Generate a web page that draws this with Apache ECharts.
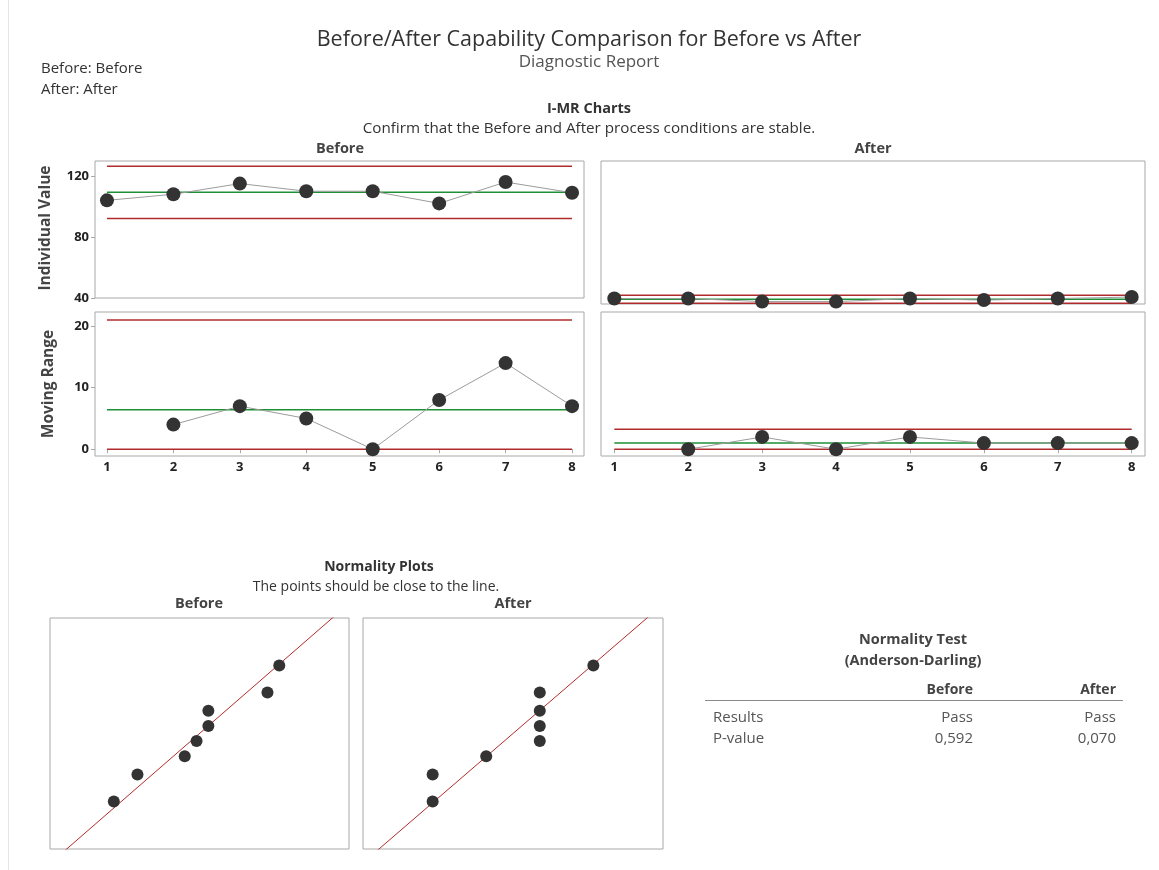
<!DOCTYPE html>
<html>
<head>
<meta charset="utf-8">
<script src="https://cdn.jsdelivr.net/npm/echarts@6/dist/echarts.min.js"></script>
<style>
  html, body { margin: 0; padding: 0; background: #ffffff; }
  #chart { width: 1159px; height: 870px; }
</style>
</head>
<body>
<div id="chart"></div>
<script>
// Observation numbers and measured values
const observations = [1, 2, 3, 4, 5, 6, 7, 8];
const beforeValues = [104, 108, 115, 110, 110, 102, 116, 109];
const afterValues = [39, 39, 37, 37, 39, 38, 39, 40];
// Moving ranges (no range for the first observation)
const beforeRanges = [null, 4, 7, 5, 0, 8, 14, 7];
const afterRanges = [null, 0, 2, 0, 2, 1, 1, 1];
// Ordered values and their normal scores for the probability plots
const beforeSorted = [102, 104, 108, 109, 110, 110, 115, 116];
const afterSorted = [37, 37, 38, 39, 39, 39, 39, 40];
const normalScores = [-1.38, -0.83, -0.46, -0.15, 0.15, 0.46, 0.83, 1.38];
// Tick labels
const individualTicks = [40, 80, 120];
const rangeTicks = [0, 10, 20];
// Anderson-Darling summary table
const testRows = ['Results', 'P-value'];
const testBefore = ['Pass', '0,592'];
const testAfter = ['Pass', '0,070'];

const FONT = '"Open Sans", "Noto Sans", "DejaVu Sans", sans-serif';
const RED = '#b02c2c';
const GREEN = '#1f8f36';
const DOT = '#333333';
const CONNECT = '#9c9c9c';
const FRAME = '#a8a8a8';

function mean(a) { return a.reduce((s, v) => s + v, 0) / a.length; }
function sd(a) {
  const m = mean(a);
  return Math.sqrt(a.reduce((s, v) => s + (v - m) * (v - m), 0) / (a.length - 1));
}
function avgRange(r) { const v = r.filter(x => x !== null); return mean(v); }

// I-MR control limits
function limits(values, ranges) {
  const m = mean(values), mr = avgRange(ranges);
  return { center: m, ucl: m + 2.66 * mr, lcl: m - 2.66 * mr,
           mrCenter: mr, mrUcl: 3.267 * mr, mrLcl: 0 };
}
const limB = limits(beforeValues, beforeRanges);
const limA = limits(afterValues, afterRanges);

const grids = [
  { left: 95, top: 161, width: 489, height: 137 },   // 0 Before individual
  { left: 601, top: 161, width: 544, height: 143 },  // 1 After individual
  { left: 95, top: 312, width: 489, height: 144 },   // 2 Before moving range
  { left: 601, top: 312, width: 544, height: 144 },  // 3 After moving range
  { left: 50, top: 618, width: 299, height: 231 },   // 4 Before normal plot
  { left: 363, top: 618, width: 300, height: 231 }   // 5 After normal plot
].map(g => Object.assign({ show: true, borderColor: FRAME, borderWidth: 1, containLabel: false }, g));

function obsAxis(gi, showLabels) {
  return {
    type: 'value', gridIndex: gi, min: 0.82, max: 8.18,
    axisLine: { show: false },
    axisTick: { show: showLabels, customValues: observations, length: 4, lineStyle: { color: FRAME } },
    axisLabel: { show: showLabels, customValues: observations, color: '#222', fontSize: 13,
                 fontWeight: 'bold', fontFamily: FONT, margin: 5 },
    splitLine: { show: false }
  };
}
function valAxis(gi, min, max, ticks, showLabels) {
  return {
    type: 'value', gridIndex: gi, min: min, max: max,
    axisLine: { show: false },
    axisTick: { show: showLabels, customValues: ticks, length: 4, lineStyle: { color: FRAME } },
    axisLabel: { show: showLabels, customValues: ticks, color: '#222', fontSize: 13,
                 fontWeight: 'bold', fontFamily: FONT, margin: 6 },
    splitLine: { show: false }
  };
}
function plainAxis(gi, min, max) {
  return { type: 'value', gridIndex: gi, min: min, max: max,
           axisLine: { show: false }, axisTick: { show: false },
           axisLabel: { show: false }, splitLine: { show: false } };
}

const xAxes = [
  obsAxis(0, false), obsAxis(1, false), obsAxis(2, true), obsAxis(3, true),
  plainAxis(4, 96.6, 121.9), plainAxis(5, 35.7, 41.3)
];
const yAxes = [
  valAxis(0, 40, 129.8, individualTicks, true),
  valAxis(1, 35.4, 129.8, individualTicks, false),
  valAxis(2, -1.1, 22.3, rangeTicks, true),
  valAxis(3, -1.1, 22.3, rangeTicks, false),
  plainAxis(4, -2.34, 2.34),
  plainAxis(5, -2.34, 2.34)
];

function hline(gi, y, color) {
  return { type: 'line', xAxisIndex: gi, yAxisIndex: gi, silent: true, symbol: 'none',
           data: [[observations[0], y], [observations[observations.length - 1], y]],
           lineStyle: { color: color, width: 1.5 }, z: 2, animation: false };
}
function runSeries(gi, values) {
  return { type: 'line', xAxisIndex: gi, yAxisIndex: gi, silent: true,
           data: observations.map((o, i) => [o, values[i]]).filter(p => p[1] !== null),
           symbol: 'circle', symbolSize: 14,
           itemStyle: { color: DOT },
           lineStyle: { color: CONNECT, width: 1 }, z: 3, animation: false };
}
function probPlot(gi, sorted) {
  const m = mean(sorted), s = sd(sorted);
  return [
    { type: 'line', xAxisIndex: gi, yAxisIndex: gi, silent: true, symbol: 'none', clip: true,
      data: [[m - 3 * s, -3], [m + 3 * s, 3]],
      lineStyle: { color: RED, width: 1 }, z: 2, animation: false },
    { type: 'scatter', xAxisIndex: gi, yAxisIndex: gi, silent: true,
      data: sorted.map((v, i) => [v, normalScores[i]]),
      symbolSize: 12, itemStyle: { color: DOT, opacity: 1 }, z: 3, animation: false }
  ];
}

const series = [
  hline(0, limB.ucl, RED), hline(0, limB.lcl, RED), hline(0, limB.center, GREEN), runSeries(0, beforeValues),
  hline(1, limA.ucl, RED), hline(1, limA.lcl, RED), hline(1, limA.center, GREEN), runSeries(1, afterValues),
  hline(2, limB.mrUcl, RED), hline(2, limB.mrLcl, RED), hline(2, limB.mrCenter, GREEN), runSeries(2, beforeRanges),
  hline(3, limA.mrUcl, RED), hline(3, limA.mrLcl, RED), hline(3, limA.mrCenter, GREEN), runSeries(3, afterRanges)
].concat(probPlot(4, beforeSorted), probPlot(5, afterSorted));

function txt(text, x, y, opts) {
  opts = opts || {};
  return {
    type: 'text', x: x, y: y, rotation: opts.rotation || 0, silent: true,
    style: {
      text: text, fontFamily: FONT, fontSize: opts.size || 14,
      fontWeight: opts.bold ? 'bold' : 'normal', fill: opts.color || '#333',
      align: opts.align || 'center', verticalAlign: 'middle'
    }
  };
}

const graphics = [
  { type: 'line', silent: true, shape: { x1: 8.5, y1: 0, x2: 8.5, y2: 870 }, style: { stroke: '#e4e4e4', lineWidth: 1 } },
  txt('Before/After Capability Comparison for Before vs After', 589, 40, { size: 21.5, color: '#333' }),
  txt('Diagnostic Report', 589, 62, { size: 17, color: '#555' }),
  txt('Before: Before', 41, 69, { align: 'left', size: 15 }),
  txt('After: After', 41, 90, { align: 'left', size: 15 }),
  txt('I-MR Charts', 589, 109, { bold: true, size: 14.5 }),
  txt('Confirm that the Before and After process conditions are stable.', 589, 129, { size: 15.2 }),
  txt('Before', 340, 149, { bold: true, size: 14.5, color: '#444' }),
  txt('After', 873, 149, { bold: true, size: 14.5, color: '#444' }),
  txt('Individual Value', 46, 228, { bold: true, size: 15.5, color: '#444', rotation: Math.PI / 2 }),
  txt('Moving Range', 49, 384, { bold: true, size: 15.5, color: '#444', rotation: Math.PI / 2 }),
  txt('Normality Plots', 379, 567, { bold: true, size: 14 }),
  txt('The points should be close to the line.', 376, 587, { size: 14 }),
  txt('Before', 199, 604, { bold: true, size: 14.5, color: '#444' }),
  txt('After', 513, 604, { bold: true, size: 14.5, color: '#444' }),
  txt('Normality Test', 913, 640, { bold: true, size: 14.5, color: '#444' }),
  txt('(Anderson-Darling)', 913, 661, { bold: true, size: 14.5, color: '#444' }),
  txt('Before', 973, 690, { bold: true, size: 14, color: '#444', align: 'right' }),
  txt('After', 1116, 690, { bold: true, size: 14, color: '#444', align: 'right' }),
  { type: 'line', silent: true, shape: { x1: 705, y1: 700.5, x2: 1123, y2: 700.5 }, style: { stroke: '#8a8a8a', lineWidth: 1 } }
];
testRows.forEach((row, i) => {
  const y = 718 + i * 21;
  graphics.push(txt(row, 713, y, { align: 'left', size: 15, color: '#555' }));
  graphics.push(txt(testBefore[i], 973, y, { align: 'right', size: 15, color: '#555' }));
  graphics.push(txt(testAfter[i], 1116, y, { align: 'right', size: 15, color: '#555' }));
});

const chart = echarts.init(document.getElementById('chart'), null, { renderer: 'canvas' });
chart.setOption({
  backgroundColor: '#ffffff',
  animation: false,
  grid: grids,
  xAxis: xAxes,
  yAxis: yAxes,
  series: series,
  graphic: graphics
});
</script>
</body>
</html>
